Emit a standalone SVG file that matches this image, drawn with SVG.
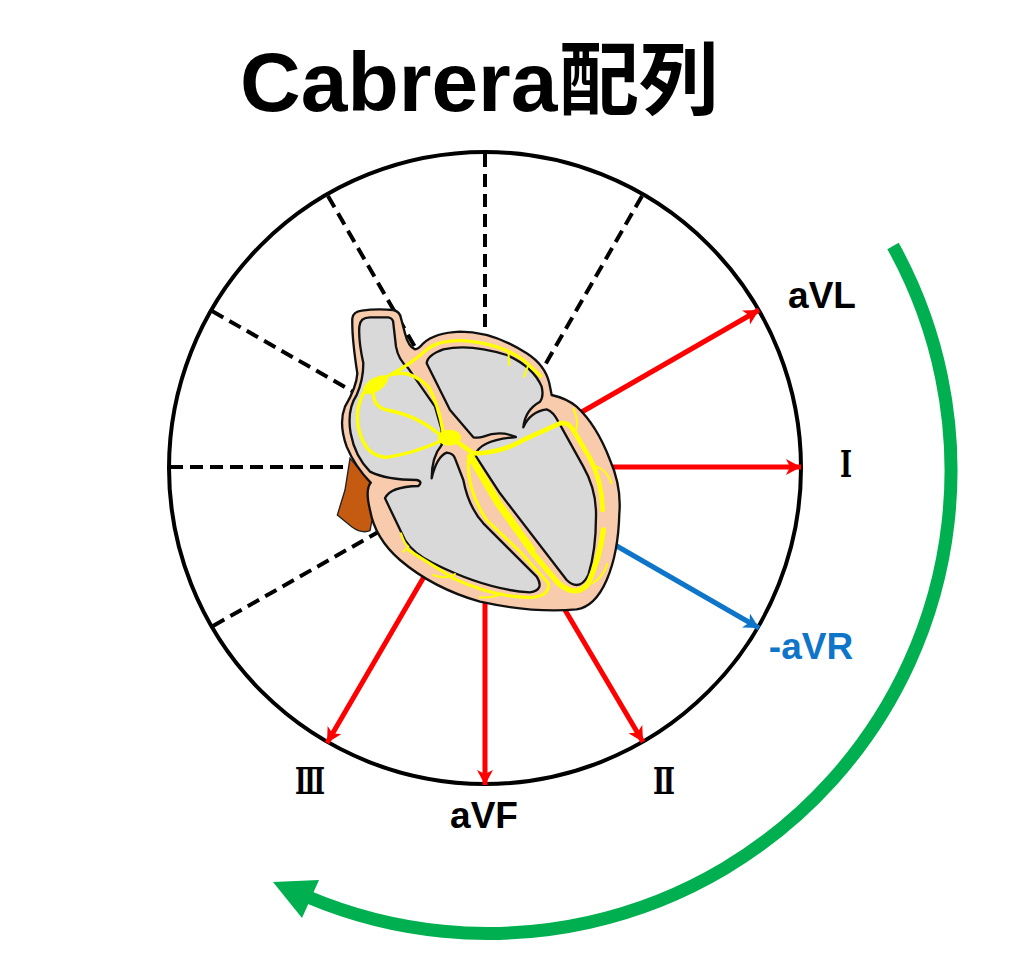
<svg xmlns="http://www.w3.org/2000/svg" width="1024" height="967" viewBox="0 0 1024 967">
<style>
.lbl{font-family:"Liberation Sans",Arial,sans-serif;font-weight:700;font-size:37px;fill:#000;text-anchor:middle}
.rom{font-family:"DejaVu Serif",serif;font-weight:700;font-size:37px;fill:#000}
.dash{stroke:#000;stroke-width:4;stroke-dasharray:13 7;fill:none}
.red{stroke:#f00;stroke-width:5;fill:none;marker-end:url(#ar)}
.blue{stroke:#0f75c9;stroke-width:5;fill:none;marker-end:url(#ab)}
.y{fill:none;stroke:#ff0;stroke-linecap:round;stroke-linejoin:round}
</style>
<defs>
<marker id="ar" markerUnits="userSpaceOnUse" markerWidth="18" markerHeight="18" refX="15" refY="8" orient="auto"><path d="M0,0L15,8L0,16L4,8Z" fill="#f00"/></marker>
<marker id="ab" markerUnits="userSpaceOnUse" markerWidth="18" markerHeight="18" refX="15" refY="8" orient="auto"><path d="M0,0L15,8L0,16L4,8Z" fill="#0f75c9"/></marker>
</defs>
<rect width="1024" height="967" fill="#fff"/>
<g id="title">
<text x="240" y="111" font-family="'Liberation Sans',sans-serif" font-weight="700" font-size="84">Cabrera</text>
<text x="559" y="108" font-family="'Noto Sans CJK JP',sans-serif" font-weight="700" font-size="80">配列</text>
</g>
<g id="wheel"><circle cx="485" cy="468" r="316" fill="#fff" stroke="#000" stroke-width="4"/></g>
<g id="connectors">
<line class="dash" x1="485" y1="154" x2="485" y2="335"/>
<line class="dash" x1="642" y1="196" x2="545" y2="365"/>
<line class="dash" x1="328" y1="196" x2="415" y2="347"/>
<line class="dash" x1="212" y1="311" x2="352" y2="391"/>
<line class="dash" x1="170" y1="467" x2="347" y2="467"/>
<line class="dash" x1="213" y1="626" x2="380" y2="531"/>
<line class="red" x1="580" y1="413" x2="759" y2="310"/>
<line class="red" x1="610" y1="467" x2="801" y2="467"/>
<line class="blue" x1="615" y1="545" x2="759" y2="628"/>
<line class="red" x1="565" y1="610" x2="643" y2="742"/>
<line class="red" x1="485" y1="600" x2="485" y2="785"/>
<line class="red" x1="425" y1="575" x2="327" y2="743"/>
<path id="sweep" d="M893,246A463,463 0 0 1 308,897" fill="none" stroke="#00b050" stroke-width="13"/>
<polygon points="273,882 319,880 302,918" fill="#00b050"/>
</g>
<g id="heart" transform="translate(320,290) scale(.33333)">
<path d="M90,505L150,575L145,620L158,680L150,722Q125,732 95,710L52,675L75,600Z" fill="#c55a11" stroke="#222" stroke-width="4"/>
<path d="M97,85Q100,65 125,62Q170,55 220,60Q240,65 243,85L255,130Q265,170 285,178Q295,178 310,160Q345,128 420,125Q520,125 620,190Q675,225 688,280L695,315Q740,325 770,350Q830,405 870,510Q905,590 898,670Q895,790 860,870Q825,950 770,958Q640,970 480,935Q340,895 240,810Q165,745 150,660Q135,600 152,578Q105,530 80,470Q55,400 75,350Q110,290 112,250Q95,140 97,85Z" fill="#f8cbad" stroke="#111" stroke-width="7"/>
<path d="M118,110Q120,82 150,82L205,82Q220,85 220,100L228,170Q235,210 265,235L345,350L365,420L365,465Q335,500 335,565Q350,500 380,488Q400,490 405,505L430,570Q445,650 490,700L650,860Q675,900 630,907Q500,900 340,820Q280,790 255,750L195,625Q210,590 295,588Q310,575 290,570Q200,570 150,545Q105,500 92,430Q80,360 110,315Q130,270 130,220Q115,150 118,110Z" fill="#d9d9d9" stroke="#111" stroke-width="7" stroke-linejoin="round"/>
<path d="M320,220Q322,195 370,178Q450,160 560,195Q640,230 665,290Q672,320 660,335Q615,360 610,412Q630,365 680,358Q700,365 715,395L790,530Q830,600 828,680Q828,780 805,855Q790,885 770,885Q755,885 740,870L540,610L465,495Q480,450 588,441Q540,420 490,440Q475,445 460,442L390,360Z" fill="#d9d9d9" stroke="#111" stroke-width="7" stroke-linejoin="round"/>
<g id="conduction">
<path class="y" stroke-width="10" d="M210,255Q270,225 325,175Q360,150 430,152Q540,160 610,210L662,258"/>
<path class="y" stroke-width="6" d="M565,185L568,225M625,225L612,260"/>
<path class="y" stroke-width="10" d="M210,255Q270,235 325,290Q355,340 370,430"/>
<path class="y" stroke-width="10" d="M160,310Q160,350 200,360Q290,375 360,435"/>
<path class="y" stroke-width="10" d="M130,310Q100,370 120,430Q140,500 200,502Q280,490 365,452"/>
<path d="M130,295Q150,255 205,255Q210,275 180,300Q150,318 130,310Z" fill="#ff0"/>
<ellipse cx="388" cy="443" rx="35" ry="24" fill="#ff0"/>
<path class="y" stroke-width="14" d="M410,455L460,490Q540,490 610,450L720,400Q745,395 760,420L810,505Q845,570 848,660"/>
<path class="y" stroke-width="6" d="M760,355Q780,400 765,425M830,530Q860,540 875,580"/>
<path class="y" stroke-width="22" d="M452,500L535,640L635,780"/>
<path class="y" stroke-width="16" d="M535,640L635,785L715,880Q770,925 805,880Q840,800 850,720"/>
<path class="y" stroke-width="9" d="M445,510Q440,600 500,690L600,785L685,880Q690,915 640,922Q530,925 400,865L265,780"/>
<path class="y" stroke-width="6" d="M243,730Q255,765 265,770L250,785M340,855Q380,870 405,852M480,922Q520,925 545,910M820,878Q850,860 862,822"/>
</g>
</g>
<g id="labels">
<text class="lbl" x="822" y="308">aVL</text>
<text class="rom" x="840" y="477" textLength="12" lengthAdjust="spacingAndGlyphs">Ⅰ</text>
<text class="lbl" x="811" y="659" style="fill:#0f75c9">-aVR</text>
<text class="rom" x="653" y="794" textLength="22" lengthAdjust="spacingAndGlyphs">Ⅱ</text>
<text class="lbl" x="484" y="828">aVF</text>
<text class="rom" x="295" y="794" textLength="30" lengthAdjust="spacingAndGlyphs">Ⅲ</text>
</g>
</svg>
